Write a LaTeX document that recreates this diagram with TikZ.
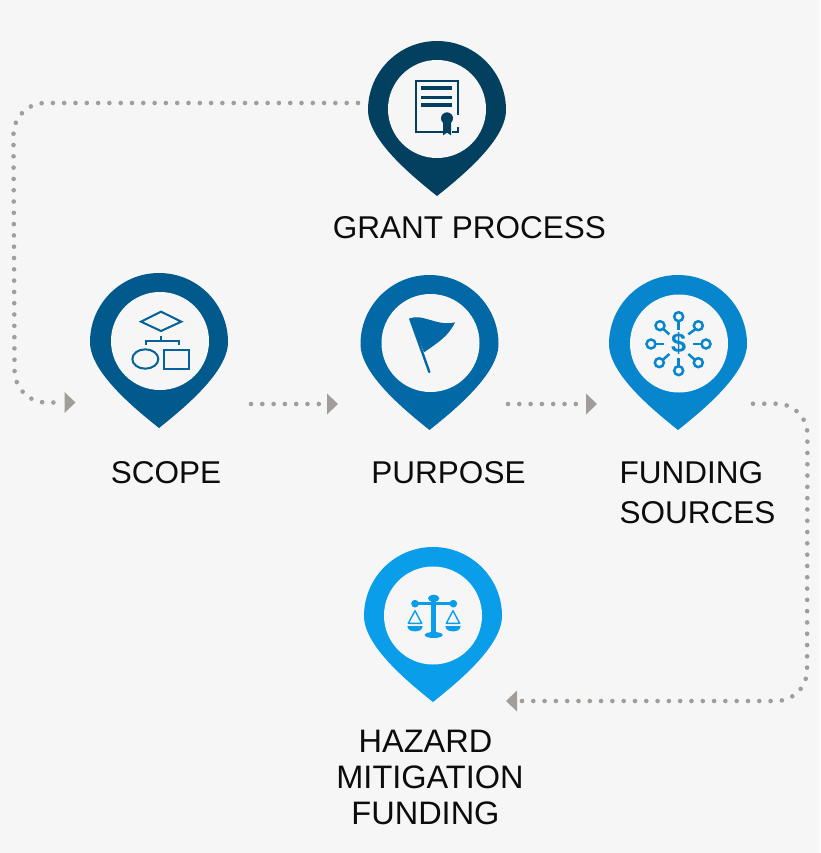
\documentclass[tikz,border=0pt]{standalone}
\usepackage{fontspec}
\setmainfont{Liberation Sans}
\usetikzlibrary{arrows.meta}
\definecolor{bgc}{HTML}{F6F6F6}
\definecolor{dotc}{HTML}{A09D9B}
\definecolor{pina}{HTML}{033F5E}
\definecolor{pinb}{HTML}{02598C}
\definecolor{pinc}{HTML}{0268A6}
\definecolor{pind}{HTML}{0786CD}
\definecolor{pine}{HTML}{0A9EEA}
\definecolor{txt}{HTML}{0C0C0C}
\newcommand{\pinshape}[3]{%
  \fill[#3] (#1-69,#2) arc[start angle=180,end angle=360,radius=69]
    .. controls (#1+69,#2+30) and (#1+25,#2+66) .. (#1,#2+86)
    .. controls (#1-25,#2+66) and (#1-69,#2+30) .. (#1-69,#2) -- cycle;}
\tikzset{
  hole/.style={circle,fill=bgc,minimum size=98pt,inner sep=0pt,outer sep=0pt},
  lab/.style={inner sep=0pt,outer sep=0pt,text=txt,font=\fontsize{31.5}{37}\selectfont},
  dots/.style={draw=dotc,line width=4.6pt,line cap=round,dash pattern=on 0pt off 11.3pt,
    -{Triangle[length=0.01pt,width=0.01pt,sep=7pt,fill=dotc,line width=0pt]Triangle[length=11pt,width=21pt,fill=dotc,line width=0pt]}},
  zoomed/.style={x=0.33333pt,y=-0.33333pt},
}
\begin{document}
\begin{tikzpicture}[x=1pt,y=-1pt]
\useasboundingbox (0,0) rectangle (820,853);
\fill[bgc] (0,0) rectangle (820,853);

% pins
\pinshape{437}{110}{pina}
\node[hole] (grant) at (437,109) {};
\pinshape{159}{342}{pinb}
\node[hole] (scope) at (160,341) {};
\pinshape{429.5}{344}{pinc}
\node[hole] (purpose) at (430.5,343) {};
\pinshape{678}{344}{pind}
\node[hole] (funding) at (679,343.5) {};
\pinshape{433}{616}{pine}
\node[hole] (hazard) at (433,615.5) {};

% labels
\node[lab] (lgrant) at (469.5,228) {GRANT PROCESS};
\node[lab] (lscope) at (166,473) {SCOPE};
\node[lab] (lpurpose) at (448.5,473) {PURPOSE};
\node[lab,align=left,font=\fontsize{31.5}{40}\selectfont] (lfunding) at (697.5,493) {FUNDING\\SOURCES};
\node[lab,align=center,font=\fontsize{32.5}{36}\selectfont] (lhazard) at (430,777.5) {HAZARD\hspace*{9pt}\\MITIGATION\\FUNDING\hspace*{9pt}};

% connectors
\coordinate (gout) at (358,103);
\coordinate (sin) at (75.5,402.5);
\coordinate (sout) at (251,404);
\coordinate (pin) at (338,404);
\coordinate (pout) at (508,404);
\coordinate (fin) at (597,404);
\coordinate (fout) at (753,403.7);
\coordinate (hin) at (506,701);
\draw[dots,rounded corners=32pt] (gout) -- (13.3,103) -- (14.7,402.5) -- (sin);
\draw[dots] (sout) -- (pin);
\draw[dots] (pout) -- (fin);
\draw[dots,rounded corners=31pt] (fout) -- (807.5,403.7) -- (807,701) -- (hin);

% certificate icon
\begin{scope}[shift={(350,30)},zoomed,pina]
  \draw[line width=2pt] (280,305) -- (198,305) -- (198,154) -- (324,154) -- (324,255);
  \draw[line width=2pt] (306,305) -- (324,305) -- (324,290);
  \foreach \yy in {174,202,225} \draw[line width=3.4pt] (214,\yy) -- (307,\yy);
  \fill (279,268) -- (279,316) -- (291,308) -- (303,316) -- (303,268) -- cycle;
  \fill (291,265) circle[radius=18];
\end{scope}

% flowchart icon
\begin{scope}[shift={(80,265)},zoomed,draw=pinb!80!pind,line width=2pt]
  \draw (183,170) -- (243,140) -- (304,170) -- (243,198) -- cycle;
  \draw (243,212) -- (243,228) (198,240) -- (198,228) -- (298,228) -- (298,240);
  \draw (196,282) ellipse[x radius=39,y radius=29];
  \draw (252,254) rectangle (328,311);
\end{scope}

% flag icon
\begin{scope}[shift={(350,265)},zoomed,pinc]
  \fill[line join=round] (179,160) .. controls (220,145) and (260,185) .. (315,172)
     .. controls (295,215) and (260,235) .. (222,262) -- cycle;
  \draw[line width=2.4pt,line cap=round] (181,162) -- (238,321);
\end{scope}

% funding icon
\begin{scope}[shift={(600,265)},zoomed,pind,line width=2.5pt]
  \foreach \cx/\cy/\ax/\ay/\bx/\by in {
     236/155/236/169/236/194,
     318/237/304/237/280/237,
     236/317/236/303/236/280,
     153/237/167/237/193/237,
     180/182/190/192/208/208,
     295/182/287/192/265/208,
     178/293/188/285/208/267,
     295/293/285/285/265/267}{
    \draw (\cx,\cy) circle[radius=13.5];
    \draw (\ax,\ay) -- (\bx,\by);
  }
  \node[inner sep=0pt,text=pind,font=\fontsize{27}{27}\selectfont\bfseries] (dollar) at (236,236) {\$};
\end{scope}

% scales icon
\begin{scope}[shift={(355,540)},zoomed,pine]
  \fill (236,175) ellipse[x radius=17,y radius=11];
  \fill (229,175) rectangle (243,280);
  \fill (236,285) ellipse[x radius=27,y radius=9];
  \draw[line width=3.2pt] (180,191) -- (295,191);
  \fill (180,191) circle[radius=11.5] (295,191) circle[radius=11.5];
  \foreach \px in {180,294}{
    \draw[line width=1.4pt,line join=round] (\px,212) -- (\px-20,250) -- (\px+20,250) -- cycle;
    \fill (\px-23,258) -- (\px+23,258) .. controls (\px+22,270) and (\px+12,274) .. (\px,274)
       .. controls (\px-12,274) and (\px-22,270) .. (\px-23,258) -- cycle;
  }
\end{scope}
\end{tikzpicture}
\end{document}
